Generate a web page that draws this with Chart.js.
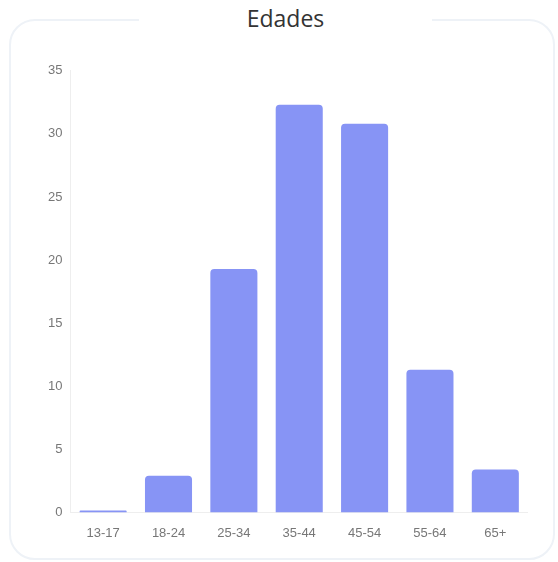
<!DOCTYPE html>
<html>
<head>
<meta charset="utf-8">
<script src="https://cdn.jsdelivr.net/npm/chart.js@4"></script>
<style>
  html, body { margin: 0; padding: 0; background: #fff; }
  body { width: 558px; height: 562px; position: relative; overflow: hidden; }
  .card {
    position: absolute; left: 9px; top: 19px; width: 546px; height: 541px;
    box-sizing: border-box; border: 2px solid #eef2f7; border-radius: 26px;
  }
  .card-title {
    position: absolute; left: 139px; top: 1px; width: 293px; height: 34px;
    background: #fff; text-align: center; line-height: 34px;
    font-family: "Open Sans", Lato, sans-serif; font-size: 23px; color: #333;
  }
  #wrap { position: absolute; left: 40px; top: 55px; width: 488px; height: 491px; }
</style>
</head>
<body>
<div class="card"></div>
<div class="card-title">Edades</div>
<div id="wrap"><canvas id="edadesChart"></canvas></div>
<script>
// Age groups and their share (%)
const categories = ['13-17', '18-24', '25-34', '35-44', '45-54', '55-64', '65+'];
const values = [0.15, 2.9, 19.3, 32.3, 30.8, 11.3, 3.4];
const yTicks = [0, 5, 10, 15, 20, 25, 30, 35];

function initEdadesChart() {
    const ctx = document.getElementById('edadesChart');
    new Chart(ctx, {
        type: 'bar',
        data: {
            labels: categories,
            datasets: [{
                label: 'Edades',
                data: values,
                backgroundColor: '#8794f5',
                borderRadius: 4,
                borderSkipped: 'bottom'
            }]
        },
        options: {
            responsive: true,
            maintainAspectRatio: false,
            animation: false,
            layout: { padding: 0 },
            plugins: {
                legend: { display: false },
                tooltip: { enabled: false }
            },
            scales: {
                x: {
                    grid: { display: false },
                    border: { color: '#eeeeee' },
                    ticks: { color: '#777', font: { size: 13 }, padding: 5 }
                },
                y: {
                    min: 0,
                    max: 35,
                    afterBuildTicks: (axis) => { axis.ticks = yTicks.map(v => ({ value: v })); },
                    grid: { display: false, drawTicks: false },
                    border: { color: '#eeeeee' },
                    ticks: { color: '#777', font: { size: 13 }, padding: 8 }
                }
            }
        }
    });
}

initEdadesChart();
</script>
</body>
</html>
